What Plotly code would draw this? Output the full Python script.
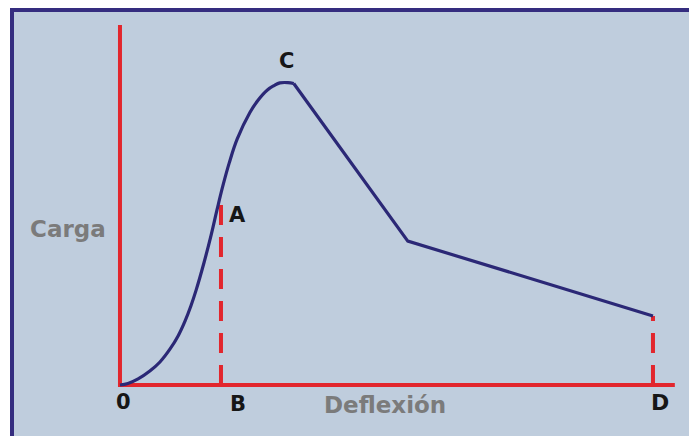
import plotly.graph_objects as go

# The page body keeps the browser's 8px margin, so the figure is drawn 8px
# in from the window's top-left corner and sized to fill the rest.
OFF = 8
W, H = 697 - OFF, 436 - OFF

# --- data (deflection / load, arbitrary units) ---
rise_deflection = [0, 0.15, 0.34, 0.56, 0.75, 0.94, 1.09, 1.22, 1.33, 1.43, 1.58, 1.71,
                   1.82, 1.93, 2.05, 2.20, 2.44, 2.59, 2.76, 2.89, 3.00, 3.15, 3.26]
rise_load = [0, 0.05, 0.20, 0.46, 0.76, 1.19, 1.62, 2.11, 2.61, 3.14, 4.06, 4.95,
             5.78, 6.57, 7.33, 8.12, 9.00, 9.40, 9.73, 9.88, 9.97, 9.98, 9.95]
fall_deflection = [3.26, 5.4, 10.0]
fall_load = [9.95, 4.75, 2.28]

point_labels = ["0", "A", "B", "C", "D"]
A_deflection, A_load = 1.895, 6.17
D_deflection, D_load = 10.0, 2.28
peak_deflection, peak_load = 3.0, 9.97
axis_x_max, axis_y_max = 10.41, 11.88
x_title, y_title = "Deflexión", "Carga"

# axis ranges chosen so the whole figure is the plotting area
x_range = [-2.101, 10.826]
y_range = [-1.683, 12.442]

RED = "#e2262d"
NAVY = "#2b2876"
BG = "#bfcddd"
FRAME = "#352d7f"
GRAY = "#7b7b7b"
BLACK = "#161616"

fig = go.Figure()

# red axes
fig.add_trace(go.Scatter(x=[0, 0, axis_x_max], y=[axis_y_max, 0, 0], mode="lines",
                         line=dict(color=RED, width=4), hoverinfo="skip"))
# dashed markers at A and D
fig.add_trace(go.Scatter(x=[A_deflection, A_deflection], y=[0, A_load], mode="lines",
                         line=dict(color=RED, width=4, dash="20px,12px"), hoverinfo="skip"))
fig.add_trace(go.Scatter(x=[D_deflection, D_deflection], y=[0, D_load], mode="lines",
                         line=dict(color=RED, width=4, dash="20px,12px"), hoverinfo="skip"))
# load-deflection curve
fig.add_trace(go.Scatter(x=rise_deflection, y=rise_load, mode="lines",
                         line=dict(color=NAVY, width=3.2, shape="spline", smoothing=1.1)))
fig.add_trace(go.Scatter(x=fall_deflection, y=fall_load, mode="lines",
                         line=dict(color=NAVY, width=3.2)))

FONT = "DejaVu Sans"
def lab(text, x, y, xs, ys, color=BLACK, size=21):
    fig.add_annotation(x=x, y=y, text=text, showarrow=False, xshift=xs, yshift=ys,
                       font=dict(family=FONT, size=size, color=color, weight="bold"),
                       xanchor="center", yanchor="middle")

lab(point_labels[0], 0, 0, 4, -17)
lab(point_labels[1], A_deflection, A_load, 17, -17)
lab(point_labels[2], A_deflection, 0, 17, -19)
lab(point_labels[3], peak_deflection, peak_load, 7, 22)
lab(point_labels[4], D_deflection, 0, 7, -17, size=22)
lab(y_title, 0, 5.15, -52, 0, color=GRAY, size=23)
lab(x_title, 4.98, 0, 0, -20, color=GRAY, size=23)

shapes = [
    dict(type="rect", xref="paper", yref="paper", x0=(10 - OFF) / W, x1=1, y0=0, y1=1,
         fillcolor=BG, line=dict(width=0), layer="below"),
    dict(type="rect", xref="paper", yref="paper", x0=(10 - OFF) / W, x1=1, y0=1 - 4 / H, y1=1,
         fillcolor=FRAME, line=dict(width=0), layer="below"),
    dict(type="rect", xref="paper", yref="paper", x0=(10 - OFF) / W, x1=(14 - OFF) / W, y0=0, y1=1,
         fillcolor=FRAME, line=dict(width=0), layer="below"),
]

fig.update_layout(
    width=W, height=H, margin=dict(l=0, r=0, t=0, b=0),
    paper_bgcolor="white", plot_bgcolor="rgba(0,0,0,0)",
    showlegend=False, shapes=shapes,
    xaxis=dict(range=x_range, visible=False, fixedrange=True),
    yaxis=dict(range=y_range, visible=False, fixedrange=True),
)

fig.write_html("out.html", config={"displayModeBar": False})
